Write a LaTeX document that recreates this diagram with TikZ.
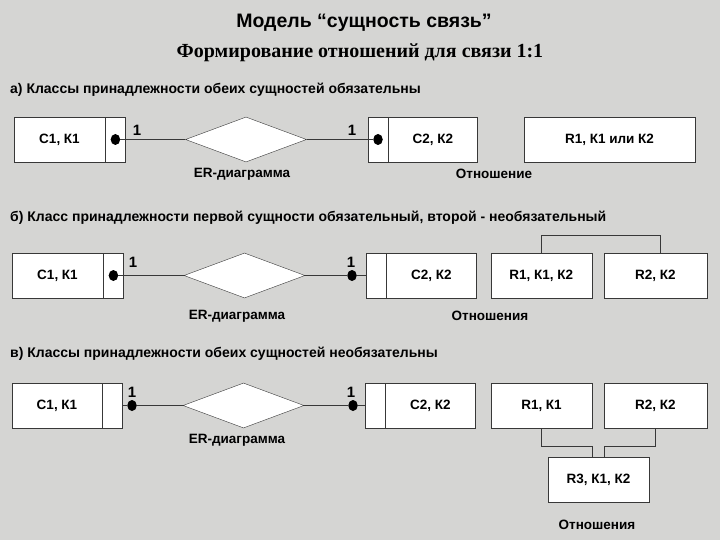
\documentclass[tikz,border=0pt]{standalone}
\usepackage{fontspec}
\setmainfont{Liberation Sans}
\newfontfamily\timesfont{Liberation Serif}
\usetikzlibrary{positioning,shapes.geometric}
\definecolor{paper}{HTML}{D5D5D3}
\definecolor{ink}{HTML}{383838}

\begin{document}
\begin{tikzpicture}[x=1pt, y=-1pt,
  entity/.style={draw=ink, fill=white, minimum height=45pt, inner sep=0pt, font=\fontsize{13.5}{15}\selectfont\bfseries},
  side/.style={draw=ink, fill=white, minimum height=45pt, minimum width=20pt, inner sep=0pt},
  relbox/.style={draw=ink, fill=white, minimum height=45pt, inner sep=0pt, font=\fontsize{13.5}{15}\selectfont\bfseries},
  link/.style={draw=ink, fill=white, shape=diamond, minimum width=121pt, minimum height=45pt, inner sep=0pt},
  dot/.style={ellipse, fill=black, inner sep=0pt, minimum width=9.5pt, minimum height=11pt},
  card/.style={font=\fontsize{15}{17}\selectfont\bfseries},
  caption/.style={font=\fontsize{13.5}{15}\selectfont\bfseries},
  heading/.style={anchor=west, inner sep=0pt, font=\fontsize{14}{16}\selectfont\bfseries},
  wire/.style={draw=ink, line width=1pt}
]
  % background
  \fill[paper] (0,0) rectangle (720,540);

  % titles
  \node[font=\fontsize{19.5}{22}\selectfont\bfseries] (title) at (364,23) {Модель “сущность связь”};
  \node[font=\timesfont\fontsize{20}{23}\selectfont\bfseries] (subtitle) at (360,53) {Формирование отношений для связи 1:1};

  % а) both obligatory
  \node[heading] (hda) at (10,90) {а) Классы принадлежности обеих сущностей обязательны};
  \node[entity, minimum width=91pt] (c1a) at (59.5,139.5) {С1, К1};
  \node[side, right=0pt of c1a] (c1as) {};
  \node[dot] (d1a) at (c1as.center) {};
  \node[link] (lka) at (246,139.5) {};
  \node[side] (c2as) at (378,139.5) {};
  \node[entity, minimum width=89pt, right=0pt of c2as] (c2a) {С2, К2};
  \node[dot] (d2a) at (c2as.center) {};
  \draw[wire] (d1a) -- (lka);
  \draw[wire] (lka) -- (d2a);
  \node[card] (n1a) at (137,130) {1};
  \node[card] (n2a) at (352,130) {1};
  \node[relbox, minimum width=171pt] (r1a) at (609.5,139.5) {R1, К1 или К2};
  \node[caption] (era) at (242,174) {ER-диаграмма};
  \node[caption] (rela) at (494,174) {Отношение};

  % б) first obligatory, second not
  \node[heading] (hdb) at (10,218) {б) Класс принадлежности первой сущности обязательный, второй - необязательный};
  \node[entity, minimum width=91pt] (c1b) at (57.5,275.5) {С1, К1};
  \node[side, right=0pt of c1b] (c1bs) {};
  \node[dot] (d1b) at (c1bs.center) {};
  \node[link] (lkb) at (244.5,275.5) {};
  \node[dot] (d2b) at (352,275.5) {};
  \node[side] (c2bs) at (376,275.5) {};
  \node[entity, minimum width=90pt, right=0pt of c2bs] (c2b) {С2, К2};
  \draw[wire] (d1b) -- (lkb);
  \draw[wire] (lkb) -- (d2b) -- (c2bs);
  \node[card] (n1b) at (133,262) {1};
  \node[card] (n2b) at (351,262) {1};
  \node[relbox, minimum width=101pt] (r1b) at (541.2,275.5) {R1, К1, К2};
  \node[relbox, minimum width=103pt] (r2b) at (655.3,275.5) {R2, К2};
  \draw[wire] (r1b.north) -- ++(0,-17) -| ([xshift=5pt]r2b.north);
  \node[caption] (erb) at (237,316) {ER-диаграмма};
  \node[caption] (relb) at (490,316) {Отношения};

  % в) both optional
  \node[heading] (hdc) at (10,354) {в) Классы принадлежности обеих сущностей необязательны};
  \node[entity, minimum width=90pt] (c1c) at (57,405.5) {С1, К1};
  \node[side, right=0pt of c1c] (c1cs) {};
  \node[dot] (d1c) at (132,405.5) {};
  \node[link] (lkc) at (243.5,405.5) {};
  \node[dot] (d2c) at (353,405.5) {};
  \node[side] (c2cs) at (375,405.5) {};
  \node[entity, minimum width=90pt, right=0pt of c2cs] (c2c) {С2, К2};
  \draw[wire] (c1cs) -- (d1c) -- (lkc);
  \draw[wire] (lkc) -- (d2c) -- (c2cs);
  \node[card] (n1c) at (132,392) {1};
  \node[card] (n2c) at (351,392) {1};
  \node[relbox, minimum width=101.5pt] (r1c) at (541.5,405.8) {R1, К1};
  \node[relbox, minimum width=103pt] (r2c) at (655.3,405.8) {R2, К2};
  \node[relbox, minimum width=101.5pt] (r3c) at (598.5,479.8) {R3, К1, К2};
  \draw[wire] (r1c.south) -- ++(0,18) -| ([xshift=-6pt]r3c.north);
  \draw[wire] (r2c.south) -- ++(0,18) -| ([xshift=5.5pt]r3c.north);
  \node[caption] (erc) at (237,440) {ER-диаграмма};
  \node[caption] (relc) at (597,525) {Отношения};
\end{tikzpicture}
\end{document}
